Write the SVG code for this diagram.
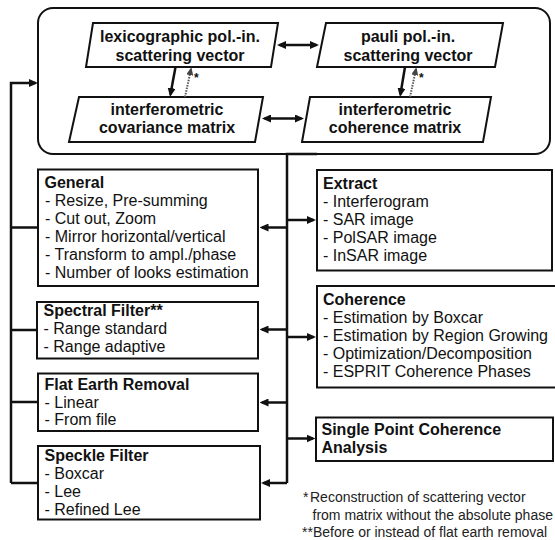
<svg xmlns="http://www.w3.org/2000/svg" width="555" height="540" viewBox="0 0 555 540">
<defs>
<style>
.t{font-family:"Liberation Sans",Arial,sans-serif;font-size:16px;fill:#111}
.b{font-weight:bold}
.m{text-anchor:middle}
.fn{font-family:"Liberation Sans",Arial,sans-serif;font-size:14px;fill:#222}
.box{fill:#fff;stroke:#111;stroke-width:2}
.ln{fill:none;stroke:#111;stroke-width:2.5}
.dot{fill:none;stroke:#555;stroke-width:2;stroke-dasharray:1.5 1.2}
</style>
<marker id="ah" viewBox="0 0 9 8" refX="6.5" refY="4" markerWidth="9" markerHeight="8" markerUnits="userSpaceOnUse" orient="auto-start-reverse">
<path d="M0,0 L9,4 L0,8 z" fill="#111"/>
</marker>
<marker id="ahd" viewBox="0 0 9 8" refX="6.5" refY="4" markerWidth="8" markerHeight="7" markerUnits="userSpaceOnUse" orient="auto">
<path d="M0,0 L9,4 L0,8 z" fill="#444"/>
</marker>
</defs>
<rect id="container" x="38" y="8" width="512" height="146" rx="15" class="box"/>
<g id="lexicographic">
<polygon points="93,23 278,23 271,67 86,67" class="box"/>
<text class="t b m" x="180" y="42">lexicographic pol.-in.</text>
<text class="t b m" x="180" y="60.5">scattering vector</text>
</g>
<g id="pauli">
<polygon points="326,23 503,23 495,67 317,67" class="box"/>
<text class="t b m" x="408" y="42">pauli pol.-in.</text>
<text class="t b m" x="408" y="60.5">scattering vector</text>
</g>
<g id="covariance">
<polygon points="79,97 263,97 255,142 69,142" class="box"/>
<text class="t b m" x="167" y="115">interferometric</text>
<text class="t b m" x="167" y="133">covariance matrix</text>
</g>
<g id="coherence-matrix">
<polygon points="310,97 491,97 483,142 302,142" class="box"/>
<text class="t b m" x="395" y="115">interferometric</text>
<text class="t b m" x="395" y="133">coherence matrix</text>
</g>
<g id="general">
<rect x="38" y="169.5" width="220" height="116.5" class="box"/>
<text class="t b" x="44.5" y="187.5">General</text>
<text class="t" x="45" y="205.5">- Resize, Pre-summing</text>
<text class="t" x="45" y="223.5">- Cut out, Zoom</text>
<text class="t" x="45" y="241.5">- Mirror horizontal/vertical</text>
<text class="t" x="45" y="259.5">- Transform to ampl./phase</text>
<text class="t" x="45" y="277.5">- Number of looks estimation</text>
</g>
<g id="spectral">
<rect x="37" y="302" width="221" height="56.5" class="box"/>
<text class="t b" x="43.5" y="316">Spectral Filter**</text>
<text class="t" x="43.5" y="334">- Range standard</text>
<text class="t" x="43.5" y="352">- Range adaptive</text>
</g>
<g id="flatearth">
<rect x="38" y="373.5" width="220" height="57.5" class="box"/>
<text class="t b" x="44.5" y="389.5">Flat Earth Removal</text>
<text class="t" x="44.5" y="407.5">- Linear</text>
<text class="t" x="44.5" y="425">- From file</text>
</g>
<g id="speckle">
<rect x="38" y="446" width="222" height="73.5" class="box"/>
<text class="t b" x="44.5" y="461">Speckle Filter</text>
<text class="t" x="44.5" y="479">- Boxcar</text>
<text class="t" x="44.5" y="497">- Lee</text>
<text class="t" x="44.5" y="514.5">- Refined Lee</text>
</g>
<g id="extract">
<rect x="317" y="170" width="235" height="100.5" class="box"/>
<text class="t b" x="323" y="188.5">Extract</text>
<text class="t" x="323" y="206.5">- Interferogram</text>
<text class="t" x="323" y="224.5">- SAR image</text>
<text class="t" x="323" y="242.5">- PolSAR image</text>
<text class="t" x="323" y="260.5">- InSAR image</text>
</g>
<g id="coherence">
<rect x="317" y="286" width="250" height="101.5" class="box"/>
<text class="t b" x="323" y="305">Coherence</text>
<text class="t" x="323" y="323">- Estimation by Boxcar</text>
<text class="t" x="323" y="341">- Estimation by Region Growing</text>
<text class="t" x="323" y="359">- Optimization/Decomposition</text>
<text class="t" x="323" y="377">- ESPRIT Coherence Phases</text>
</g>
<g id="singlepoint">
<rect x="316" y="417.5" width="237" height="43.5" class="box"/>
<text class="t b" x="321.5" y="435">Single Point Coherence</text>
<text class="t b" x="321.5" y="453">Analysis</text>
</g>
<g id="connectors">
<path class="ln" d="M279.5,45 H316.5" marker-start="url(#ah)" marker-end="url(#ah)"/>
<path class="ln" d="M264.5,118.5 H301.5" marker-start="url(#ah)" marker-end="url(#ah)"/>
<path class="ln" d="M175.5,67 L170.45,94.5" marker-end="url(#ah)"/>
<path class="ln" d="M405,67 L400.4,94.5" marker-end="url(#ah)"/>
<path class="dot" d="M185,97 L190.97,69.44" marker-end="url(#ahd)"/>
<path class="dot" d="M410,97 L415.97,69.44" marker-end="url(#ahd)"/>
<path class="ln" d="M11,483 V83 H35.5" marker-end="url(#ah)"/>
<path class="ln" d="M38,227.5 H11 M37,330 H11 M38,402 H11 M38,483 H11"/>
<path class="ln" d="M317,154 H287 V483"/>
<path class="ln" d="M287,227.5 H262" marker-end="url(#ah)"/>
<path class="ln" d="M287,329.5 H262" marker-end="url(#ah)"/>
<path class="ln" d="M287,402.5 H262" marker-end="url(#ah)"/>
<path class="ln" d="M287,483 H263.5" marker-end="url(#ah)"/>
<path class="ln" d="M287,220 H313.5" marker-end="url(#ah)"/>
<path class="ln" d="M287,337 H313.5" marker-end="url(#ah)"/>
<path class="ln" d="M287,438.5 H313" marker-end="url(#ah)"/>
</g>
<text class="t b" x="194" y="82" font-size="12" style="font-size:12px">*</text>
<text class="t b" x="419" y="82" style="font-size:12px">*</text>
<g id="footnotes">
<text class="fn" x="303" y="502">*<tspan x="310">Reconstruction of scattering vector</tspan></text>
<text class="fn" x="312.5" y="519.5">from matrix without the absolute phase</text>
<text class="fn" x="302" y="537">**<tspan x="313">Before or instead of flat earth removal</tspan></text>
</g>
</svg>
